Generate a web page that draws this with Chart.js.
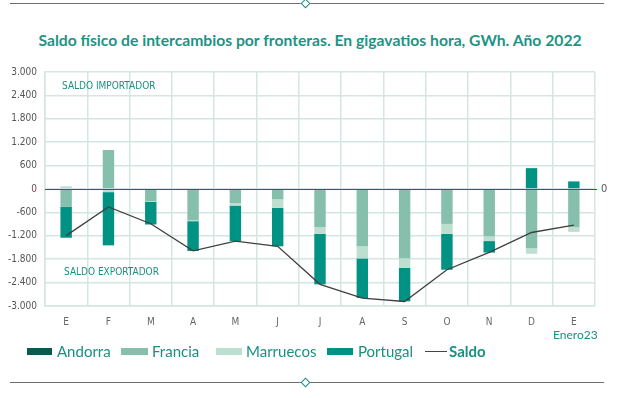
<!DOCTYPE html>
<html><head><meta charset="utf-8">
<script src="https://cdn.jsdelivr.net/npm/chart.js@4"></script>
<style>
html,body{margin:0;padding:0;background:#fff;}
body{width:620px;height:398px;position:relative;overflow:hidden;font-family:Lato,'Open Sans',sans-serif;}
.hr{position:absolute;left:10px;width:594px;height:0;border-top:1.5px solid #6f6f6f;}
.dia{position:absolute;width:5px;height:5px;border:1.5px solid #1a9080;background:#fff;transform:rotate(45deg);}
#title{position:absolute;left:0;top:31px;width:620px;text-align:center;color:#1e9384;font-weight:bold;font-size:15.7px;line-height:18px;}
#wrap{position:absolute;left:0;top:58px;width:620px;height:280px;}
#enero{position:absolute;left:553px;top:327px;font-size:12px;color:#1a9080;line-height:16px;}
.lg{position:absolute;top:342px;font-size:15px;line-height:18px;color:#1a9080;}
.sw{position:absolute;top:348px;height:7px;}
</style></head>
<body>
<div class="hr" style="top:3px"></div>
<div class="dia" style="left:302px;top:0px"></div>
<div id="title">Saldo físico de intercambios por fronteras. En gigavatios hora, GWh. Año 2022</div>
<div id="wrap"><canvas id="c"></canvas></div>
<div id="enero">Enero23</div>
<div class="sw" style="left:27px;width:25px;background:#0b5a4e"></div><div class="lg" style="left:57px">Andorra</div>
<div class="sw" style="left:121px;width:27px;background:#87bfad"></div><div class="lg" style="left:152px">Francia</div>
<div class="sw" style="left:216px;width:26px;background:#bddfd0"></div><div class="lg" style="left:246px">Marruecos</div>
<div class="sw" style="left:327px;width:26px;background:#009384"></div><div class="lg" style="left:358px">Portugal</div>
<div class="sw" style="left:425px;width:22px;height:0;top:351px;border-top:1.5px solid #444"></div><div class="lg" style="left:449px;font-weight:bold">Saldo</div>
<div class="hr" style="top:382px"></div>
<div class="dia" style="left:302px;top:379px"></div>
<script>
const months = ['E','F','M','A','M','J','J','A','S','O','N','D','E'];
const andorra   = [-20,-20,-25,-20,-20,-20,-20,-25,-25,-25,-25,-20,-25];
const francia   = [-440,1000,-290,-785,-345,-245,-960,-1445,-1750,-870,-1190,-1500,-955];
const marruecos = [70,-60,-15,-20,-60,-220,-170,-310,-245,-255,-120,-140,-120];
const portugal  = [-790,-1365,-580,-765,-910,-985,-1295,-1015,-860,-920,-295,535,195];
const saldo     = [-1195,-460,-890,-1585,-1335,-1470,-2445,-2800,-2885,-2070,-1625,-1115,-925];
const yTickValues = [3000,2400,1800,1200,600,0,-600,-1200,-1800,-2400,-3000];

const condensed = "'Liberation Sans Narrow','DejaVu Sans Condensed','Roboto Condensed',sans-serif";
const fmt = v => (v<0?'-':'') + String(Math.abs(v)).replace(/\B(?=(\d{3})+(?!\d))/g,'.');
const gridCol = '#d3e6e1';

const deco = {
  id:'deco',
  beforeDatasetsDraw(chart){
    const {ctx, chartArea:a, scales:{y}} = chart;
    ctx.save();
    ctx.font = "10px " + condensed;
    ctx.fillStyle = '#1a9080';
    ctx.textAlign = 'left'; ctx.textBaseline = 'middle';
    ctx.fillText('SALDO IMPORTADOR', a.left+17, y.getPixelForValue(2630));
    ctx.fillText('SALDO EXPORTADOR', a.left+19, y.getPixelForValue(-2150));
    ctx.restore();
  },
  afterDatasetsDraw(chart){
    const {ctx, chartArea:a, scales:{y}} = chart;
    const y0 = Math.round(y.getPixelForValue(0)) + 0.5;
    ctx.save();
    ctx.strokeStyle = '#b3262b'; ctx.lineWidth = 1;
    ctx.beginPath(); ctx.moveTo(a.left, y0); ctx.lineTo(a.right+2, y0); ctx.stroke();
    ctx.restore();
  }
};

new Chart(document.getElementById('c'), {
  type:'bar',
  data:{
    labels: months,
    datasets:[
      {label:'Andorra', data:andorra, backgroundColor:'#0b5a4e', order:1},
      {label:'Francia', data:francia, backgroundColor:'#87bfad', order:1},
      {label:'Marruecos', data:marruecos, backgroundColor:'#bddfd0', order:1},
      {label:'Portugal', data:portugal, backgroundColor:'#009384', order:1},
      {label:'Saldo', type:'line', data:saldo, stack:'saldo', borderColor:'#404040', borderWidth:1.3, pointRadius:0, tension:0, fill:false, order:0}
    ]
  },
  options:{
    responsive:true, maintainAspectRatio:false, animation:false,
    layout:{padding:{top:10,bottom:0,left:0,right:0}},
    datasets:{bar:{barPercentage:0.27, categoryPercentage:1}},
    plugins:{legend:{display:false}, tooltip:{enabled:false}},
    scales:{
      x:{stacked:true,
        grid:{color:gridCol, lineWidth:1.5, drawTicks:false, offset:true},
        border:{color:gridCol, width:1.5},
        ticks:{padding:10, color:'#666', font:{family:condensed, size:10}},
        afterFit(s){ s.height = 32; }
      },
      y:{stacked:true, min:-3000, max:3000, position:'left',
        afterBuildTicks(s){ s.ticks = yTickValues.map(v=>({value:v})); },
        grid:{color:gridCol, lineWidth:1.5, drawTicks:false},
        border:{color:gridCol, width:1.5},
        ticks:{padding:8, color:'#555', font:{family:condensed, size:10}, callback:v=>fmt(v)},
        afterFit(s){ s.width = 45; }
      },
      y2:{min:-3000, max:3000, position:'right',
        afterBuildTicks(s){ s.ticks = [{value:0}]; },
        grid:{display:false, drawTicks:false}, border:{display:false},
        ticks:{padding:6, color:'#555', font:{family:condensed, size:11}, callback:v=>v===0?'0':''},
        afterFit(s){ s.width = 25; }
      }
    }
  },
  plugins:[deco]
});
</script>
</body></html>
